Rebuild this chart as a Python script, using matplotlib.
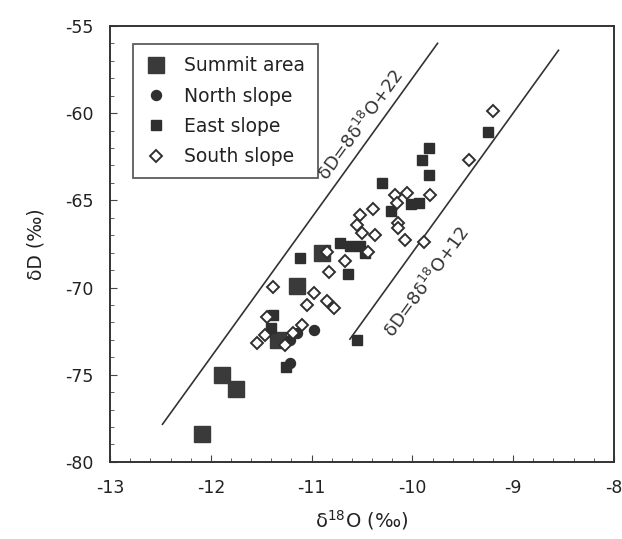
import numpy as np
import matplotlib
matplotlib.use("Agg")
import matplotlib.pyplot as plt
from matplotlib.ticker import MultipleLocator

plt.rcParams['font.family'] = ['DejaVu Sans']
plt.rcParams['mathtext.default'] = 'regular'

# Isotope data (δ18O, δD in ‰)
summit_x = [-12.09, -11.89, -11.75, -11.33, -11.15, -10.90]
summit_y = [-78.4, -75.0, -75.8, -73.0, -69.9, -68.05]

north_x = [-10.98, -11.15, -11.21, -11.21]
north_y = [-72.45, -72.6, -73.0, -74.35]

east_x = [-11.40, -11.38, -11.25, -11.12, -10.72, -10.62, -10.52, -10.47, -10.64,
          -10.55, -10.30, -10.21, -10.01, -9.93, -9.84, -9.90, -9.84, -9.25]
east_y = [-72.3, -71.57, -74.55, -68.3, -67.46, -67.6, -67.6, -68.0, -69.24,
          -73.0, -64.0, -65.64, -65.2, -65.17, -62.0, -62.7, -63.55, -61.1]

south_x = [-11.54, -11.46, -11.44, -11.38, -11.26, -11.18, -11.10, -11.05, -10.98,
           -10.85, -10.78, -10.83, -10.85, -10.67, -10.44, -10.50, -10.55, -10.52,
           -10.39, -10.37, -10.17, -10.05, -9.83, -10.15, -10.14, -10.14, -10.07,
           -9.88, -9.44, -9.20]
south_y = [-73.2, -72.7, -71.7, -69.95, -73.3, -72.6, -72.15, -71.0, -70.33,
           -70.8, -71.2, -69.1, -67.94, -68.5, -67.94, -66.9, -66.4, -65.84,
           -65.5, -67.0, -64.7, -64.6, -64.7, -65.15, -66.3, -66.6, -67.3,
           -67.4, -62.7, -59.9]

# Reference lines δD = 8·δ18O + d
line_slope = 8
line_a_intercept = 22
line_a_x = [-12.48, -9.75]
line_b_intercept = 12
line_b_x = [-10.62, -8.55]

x_ticks = [-13, -12, -11, -10, -9, -8]
y_ticks = [-80, -75, -70, -65, -60, -55]

fig = plt.figure(figsize=(6.22, 5.39), dpi=100)
ax = fig.add_axes([0.177, 0.143, 0.810, 0.809])

dark = '#2f2f2f'

for xs, d in ((line_a_x, line_a_intercept), (line_b_x, line_b_intercept)):
    xs = np.array(xs)
    ax.plot(xs, line_slope * xs + d, color='#333333', lw=1.2, zorder=1)

ax.plot(summit_x, summit_y, 's', ms=11.5, color='#3a3a3a', mec='#3a3a3a',
        label='Summit area', zorder=3)
ax.plot(north_x, north_y, 'o', ms=7.2, color=dark, mec=dark,
        label='North slope', zorder=3)
ax.plot(east_x, east_y, 's', ms=7.6, color=dark, mec=dark,
        label='East slope', zorder=3)
ax.plot(south_x, south_y, 'D', ms=5.8, mfc='white', mec=dark, mew=1.4,
        label='South slope', zorder=4)

# Equation labels, set beside their lines
ya = -60.7
ax.text((ya - line_a_intercept) / line_slope - 0.17, ya, r'δD=8δ$^{18}$O+22',
        rotation=54, fontsize=13, ha='center', va='center', color='#333333',
        rotation_mode='anchor')
yb = -69.7
ax.text((yb - line_b_intercept) / line_slope + 0.36, yb, r'δD=8δ$^{18}$O+12',
        rotation=54, fontsize=13, ha='center', va='center', color='#333333',
        rotation_mode='anchor')

ax.set_xlim(-13, -8)
ax.set_ylim(-80, -55)
ax.set_xticks(x_ticks)
ax.set_yticks(y_ticks)
ax.set_xticklabels([str(t) for t in x_ticks])
ax.set_yticklabels([str(t) for t in y_ticks])
ax.xaxis.set_minor_locator(MultipleLocator(0.2))
ax.yaxis.set_minor_locator(MultipleLocator(1))
ax.tick_params(which='both', direction='in', colors='#444444', labelcolor='#222222',
               labelsize=12.5, top=False, right=False)
ax.tick_params(which='major', length=5, width=0.8)
ax.tick_params(which='minor', length=3, width=0.6)
ax.tick_params(axis='x', which='major', pad=12)
ax.tick_params(axis='y', which='major', pad=12)
for s in ax.spines.values():
    s.set_color('#333333')
    s.set_linewidth(1.4)

ax.set_xlabel(r'δ$^{18}$O (‰)', fontsize=14, color='#222222', labelpad=8)
ax.set_ylabel('δD (‰)', fontsize=13.5, color='#222222', labelpad=14)

leg = ax.legend(loc='upper left', bbox_to_anchor=(0.045, 0.958), fontsize=13.5,
                frameon=True, fancybox=False, borderpad=0.65, labelspacing=0.6,
                handletextpad=0.9, handlelength=1.2, borderaxespad=0)
leg.get_frame().set_edgecolor('#333333')
leg.get_frame().set_linewidth(1.3)
for t in leg.get_texts():
    t.set_color('#222222')

fig.savefig('out.png', dpi=100)
